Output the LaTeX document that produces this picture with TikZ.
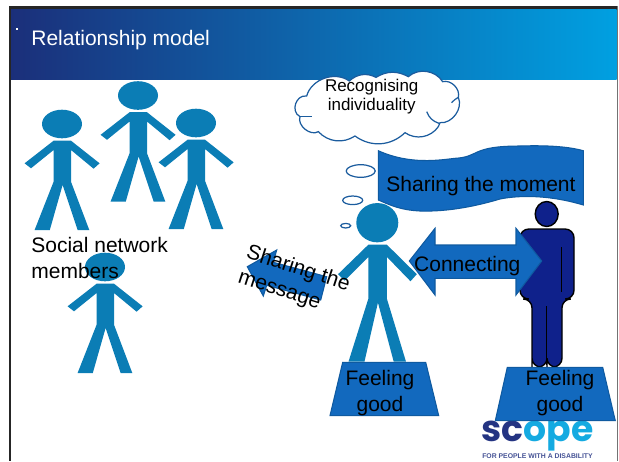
\documentclass[tikz,border=0pt]{standalone}
\usepackage{fontspec}
\setmainfont{Liberation Sans}
\newfontfamily\logofont{Poppins}
\definecolor{figblue}{RGB}{11,125,181}
\definecolor{shapeblue}{RGB}{18,105,190}
\definecolor{shapeedge}{RGB}{15,90,160}
\definecolor{darkman}{RGB}{15,33,139}
\definecolor{headdark}{RGB}{27,47,122}
\definecolor{headmid}{RGB}{5,100,170}
\definecolor{headlight}{RGB}{0,160,225}
\definecolor{cloudedge}{RGB}{27,92,158}
\definecolor{logodark}{RGB}{36,52,130}
\definecolor{logolight}{RGB}{20,170,225}
\tikzset{
  bigtext/.style={font=\fontsize{11.95}{14.8}\selectfont,inner sep=0pt,align=center},
  smalltext/.style={font=\fontsize{9.66}{10.8}\selectfont,inner sep=0pt,align=center},
  blueshape/.style={fill=shapeblue,draw=shapeedge,line width=.6pt},
  puff/.style={draw=cloudedge,line width=.7pt},
  pics/stickman/.style={code={
    \fill [figblue] (0,0) ellipse (20 and #1);
    \fill [figblue] (-8.4,16.7) -- (9,16.7) -- (37.6,39.3) -- (31.6,44.7) -- (9,26) -- (9,57.7)
      -- (27.3,106) -- (15.6,106) -- (.6,61) -- (-12.2,106) -- (-27.4,106) -- (-8.4,57.7)
      -- (-8.4,26) -- (-31,44.3) -- (-37.4,39.3) -- cycle;
  }}
}
\begin{document}
\begin{tikzpicture}[x=.02cm,y=-.02cm]

  \useasboundingbox (0,0) rectangle (619,461);

  % frame and title bar
  \fill [black!85] (8.5,6) rectangle (11,461);
  \fill [black!85] (8.5,6) rectangle (618,9);
  \fill [black!55] (616.5,6) rectangle (618,461);
  \fill [left color=headdark,middle color=headmid,right color=headlight] (11,9) rectangle (616.5,79);
  \fill [white] (16,28) rectangle (18,30);
  \node (title) at (31,40) [bigtext,anchor=west,text=white] {Relationship model};

  % the four members
  \pic (man1) at (62,124) {stickman=14.3};
  \pic (man2) at (138,95.5) {stickman=14.3};
  \pic (man3) at (196,123) {stickman=14.3};
  \pic (man4) at (105,267) {stickman=14.3};
  \node (members) at (31,258) [bigtext,anchor=west,align=left] {Social network\\members};

  % thought cloud
  \begin{scope}[shift={(290,60)},x=.00667cm,y=-.00667cm]
    \draw [puff,fill=white] (50,108) to[bend right=80,looseness=1.3] (30,170) to[bend right=70] (85,215)
      to[bend right=40] (195,228) to[bend right=40] (345,218) to[bend right=45] (445,200)
      -- (450,188) to[bend right=60] (505,112) to[bend right=60] (458,65)
      to[bend right=50] (355,50) to[bend right=30] (258,52) to[bend right=35] (178,63)
      to[bend right=55] (50,108) -- cycle;
    \draw [puff] (30,170) -- (65,170);
    \draw [puff] (410,155) to[bend right=25] (447,190);
    \draw [puff] (505,112) to[bend right=10] (485,128);
  \end{scope}
  \node (recognising) at (371.7,96.5) [smalltext] {Recognising\\individuality};

  \draw [puff] (360.7,171) ellipse (14.5 and 6.3);
  \draw [puff] (352.7,200.3) ellipse (10 and 4.3);
  \draw [puff] (345.7,225.7) ellipse (5 and 2.3);

  % central person
  \pic (man5) at (377.3,222.7) [xscale=1.05,yscale=1.31] {stickman=15};

  % person on the right
  \draw [fill=darkman,line width=.8pt,rounded corners=5pt] (532,360) -- (532,299) -- (520,299) -- (520,229)
    -- (574,229) -- (574,299) -- (562,299) -- (562,367) -- (547,367) -- (547,360) -- (547,367) -- (532,367) -- cycle;
  \draw [line width=.8pt] (546.7,306) -- (546.7,365);
  \draw [line width=.8pt] (561.7,247) -- (561.7,292);

  % wavy banner
  \draw [blueshape] (378.3,150.7) .. controls (410,165) and (440,160) .. (455,158.3)
    .. controls (480,157) and (470,146) .. (520,146) .. controls (550,145) and (570,147) .. (583.3,150.7)
    -- (583.3,205) .. controls (550,195) and (520,195) .. (500,199)
    .. controls (480,205) and (450,212) .. (420,211) .. controls (400,210) and (390,205) .. (378.3,200) -- cycle;
  \fill [darkman] (546.7,214) ellipse (11.5 and 12.5);
  \draw [line width=.8pt] (546.7,214) ellipse (11.5 and 12.5);
  \node (moment) at (481,186) [bigtext] {Sharing the moment};

  % the two arrows
  \draw [blueshape] (409.3,261) -- (435,228.3) -- (435,245) -- (516,245) -- (516,228.3) -- (541.7,261)
    -- (516,295) -- (516,278.3) -- (435,278.3) -- (435,295) -- cycle;
  \node (connecting) at (467.3,266.5) [bigtext] {Connecting};

  \draw [blueshape] (247.3,266.7) -- (276.7,250) -- (273.3,262.3) -- (326.7,276.7) -- (320.7,300)
    -- (266.7,285.3) -- (263.3,296) -- cycle;
  \node (message) at (294,281.5) [bigtext,rotate=-18,align=left] {Sharing the\\message};

  % logo
  \node (scope) at (537.5,441.7) [anchor=base,inner sep=0pt,font=\logofont\bfseries\fontsize{20.6}{21}\selectfont]
    {\textcolor{logodark}{sc}\textcolor{logolight}{ope}};
  \node (tagline) at (537.5,456) [inner sep=0pt,text=logodark!85,font=\bfseries\fontsize{3.9}{4}\selectfont]
    {FOR PEOPLE WITH A DISABILITY};

  % platforms
  \draw [blueshape] (342.7,362.3) -- (425.7,362.3) -- (438.7,415.7) -- (330,415.7) -- cycle;
  \node (feel1) at (380,393) [bigtext] {Feeling\\good};
  \draw [blueshape] (507.3,367.3) -- (602.7,367.3) -- (615.3,420.7) -- (495.3,420.7) -- cycle;
  \node (feel2) at (560,393) [bigtext] {Feeling\\good};

\end{tikzpicture}
\end{document}
